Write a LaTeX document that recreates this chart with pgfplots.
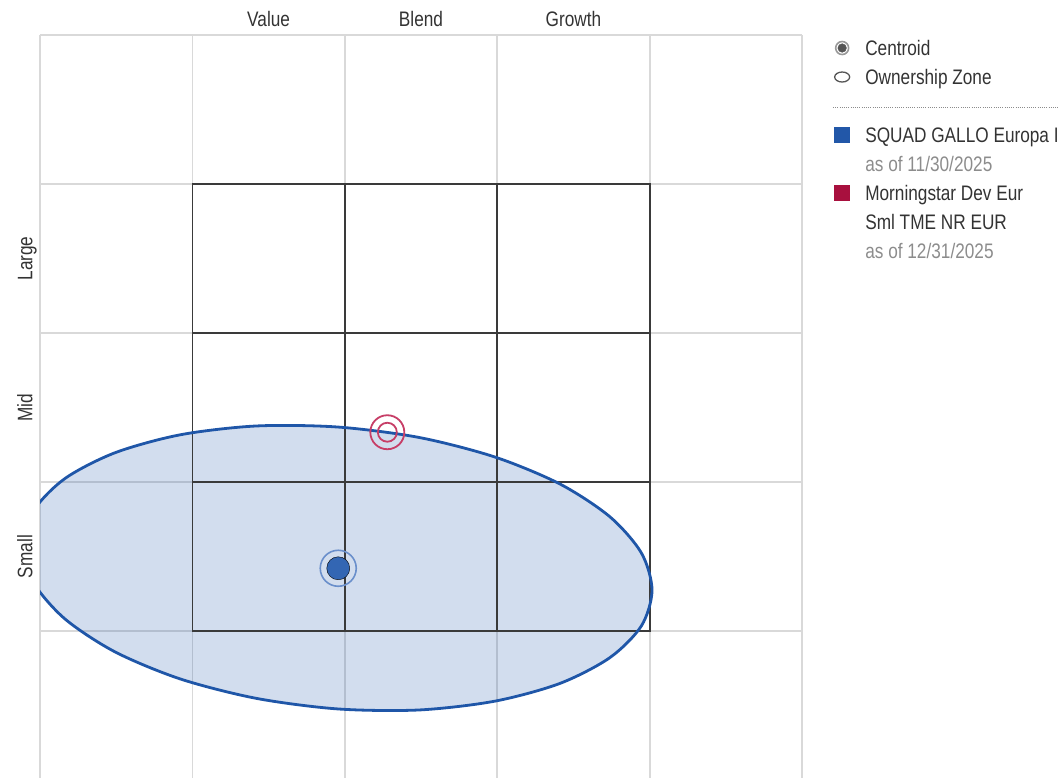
\documentclass[border=0pt]{standalone}
\usepackage{pgfplots}
\pgfplotsset{compat=1.18}
\usepackage{fontspec}
\setmainfont{Liberation Sans}[FakeStretch=0.82]
\definecolor{gridgray}{HTML}{D9D9D9}
\definecolor{boxline}{HTML}{3A3A3A}
\definecolor{zoneblue}{HTML}{1F56A8}
\definecolor{dotblue}{HTML}{3366B3}
\definecolor{ringblue}{HTML}{6A8FCB}
\definecolor{benchred}{HTML}{C73E67}
\definecolor{sqblue}{HTML}{2257A8}
\definecolor{sqred}{HTML}{A8103E}
\definecolor{textgray}{HTML}{333333}
\definecolor{asofgray}{HTML}{8C8C8C}
\definecolor{icondot}{HTML}{555555}
\definecolor{iconring}{HTML}{999999}
\pgfplotstableread{
x y
-0.110 1.572
-0.040 1.811
0.166 2.025
0.494 2.197
0.921 2.317
1.419 2.376
1.953 2.369
2.487 2.299
2.984 2.168
3.411 1.987
3.739 1.767
3.946 1.524
4.016 1.274
3.946 1.034
3.739 0.821
3.411 0.648
2.984 0.529
2.487 0.470
1.953 0.477
1.419 0.548
0.921 0.678
0.494 0.859
0.166 1.079
-0.040 1.321
-0.110 1.572
}\zonetable
\begin{document}
\begin{tikzpicture}
\path[use as bounding box] (0,0) rectangle (1059pt,-778pt);
\begin{axis}[
  at={(40pt,-35pt)}, anchor=north west,
  width=762pt, height=743pt, scale only axis,
  xmin=0, xmax=5, ymin=0.0134, ymax=5,
  axis line style={draw=none},
  xtick={0,1,2,3,4,5}, ytick={1,2,3,4,5},
  xticklabels={}, yticklabels={},
  major tick length=0pt,
  grid=major, grid style={color=gridgray, line width=1.8pt},
  clip mode=individual,
  font=\fontsize{21pt}{25pt}\selectfont,
  legend style={at={(1.0420,1.002)}, anchor=north west, draw=none, fill=none,
    inner sep=0pt, outer sep=0pt, row sep=0pt, column sep=15pt,
    font=\fontsize{21pt}{25pt}\selectfont, text=textgray,
    nodes={inner sep=0pt, outer sep=0pt, text height=21.5pt, text depth=7.5pt}},
  legend cell align=left,
]
% ownership zone fill
\addplot[forget plot, draw=none, fill=zoneblue, fill opacity=0.2, smooth]
  table[x=x,y=y]{\zonetable} -- cycle;
% style box lines
\addplot[forget plot, boxline, line width=1.8pt] coordinates {(1,1) (4,1) (4,4) (1,4) (1,1)};
\addplot[forget plot, boxline, line width=1.8pt] coordinates {(2,1) (2,4)};
\addplot[forget plot, boxline, line width=1.8pt] coordinates {(3,1) (3,4)};
\addplot[forget plot, boxline, line width=1.8pt] coordinates {(1,2) (4,2)};
\addplot[forget plot, boxline, line width=1.8pt] coordinates {(1,3) (4,3)};
% ownership zone edge
\addplot[forget plot, draw=zoneblue, line width=2.8pt, smooth]
  table[x=x,y=y]{\zonetable};
% fund centroid
\addplot[forget plot, only marks, mark=*, mark size=11.5pt, mark options={fill=dotblue, draw=none}]
  coordinates {(1.957,1.421)};
\addplot[forget plot, only marks, mark=o, mark size=18pt, mark options={draw=ringblue, line width=1.6pt}]
  coordinates {(1.957,1.421)};
% benchmark centroid
\addplot[forget plot, only marks, mark=o, mark size=17pt, mark options={draw=benchred, line width=1.8pt}]
  coordinates {(2.279,2.334)};
\addplot[forget plot, only marks, mark=o, mark size=9.5pt, mark options={draw=benchred, line width=1.8pt}]
  coordinates {(2.279,2.334)};
% labels
\node[anchor=base, text=textgray] at (axis cs:1.5,5) [yshift=8pt] {Value};
\node[anchor=base, text=textgray] at (axis cs:2.5,5) [yshift=8pt] {Blend};
\node[anchor=base, text=textgray] at (axis cs:3.5,5) [yshift=8pt] {Growth};
\node[anchor=base, rotate=90, text=textgray] at (axis cs:-0.05,3.5) {Large};
\node[anchor=base, rotate=90, text=textgray] at (axis cs:-0.05,2.5) {Mid};
\node[anchor=base, rotate=90, text=textgray] at (axis cs:-0.05,1.5) {Small};
% separator
\draw[color=asofgray, line width=0.9pt, dash pattern=on 1pt off 1.2pt] (axis cs:5.203,4.517) -- (axis cs:6.686,4.517);
% legend
\addlegendimage{legend image code/.code={\path[draw=none] (0pt,0pt) -- (16pt,0pt); \draw[iconring, line width=1.6pt] (8pt,0pt) circle (6.5pt); \fill[icondot] (8pt,0pt) circle (4.3pt);}}
\addlegendentry{Centroid}
\addlegendimage{legend image code/.code={\path[draw=none] (0pt,0pt) -- (16pt,0pt); \draw[icondot, line width=1.3pt] (8pt,0pt) ellipse (7.5pt and 5pt);}}
\addlegendentry{Ownership Zone}
\addlegendimage{legend image code/.code={\path[draw=none] (0pt,0pt) -- (16pt,0pt);}}
\addlegendentry{}
\addlegendimage{legend image code/.code={\fill[sqblue, draw=none] (0pt,-8pt) rectangle (16pt,8pt);}}
\addlegendentry{SQUAD GALLO Europa I}
\addlegendimage{legend image code/.code={\path[draw=none] (0pt,0pt) -- (16pt,0pt);}}
\addlegendentry{\textcolor{asofgray}{as of 11/30/2025}}
\addlegendimage{legend image code/.code={\fill[sqred, draw=none] (0pt,-8pt) rectangle (16pt,8pt);}}
\addlegendentry{Morningstar Dev Eur}
\addlegendimage{legend image code/.code={\path[draw=none] (0pt,0pt) -- (16pt,0pt);}}
\addlegendentry{Sml TME NR EUR}
\addlegendimage{legend image code/.code={\path[draw=none] (0pt,0pt) -- (16pt,0pt);}}
\addlegendentry{\textcolor{asofgray}{as of 12/31/2025}}
\end{axis}
\end{tikzpicture}
\end{document}
